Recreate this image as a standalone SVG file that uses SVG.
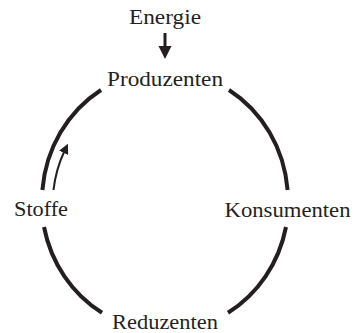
<svg xmlns="http://www.w3.org/2000/svg" width="356" height="333" viewBox="0 0 356 333">
  <style>
    .lbl { font-family: "Liberation Serif", "DejaVu Serif", "Noto Serif", serif; font-size: 22px; fill: #231f20; text-anchor: middle; }
    .cycle { fill: none; stroke: #231f20; stroke-width: 4; stroke-linecap: butt; }
    .thin { fill: none; stroke: #231f20; stroke-width: 2; }
  </style>
  <defs>
    <marker id="head" viewBox="0 0 10 10" refX="2" refY="5" markerWidth="5" markerHeight="5" markerUnits="strokeWidth" orient="auto">
      <path d="M0,0 L10,5 L0,10 z" fill="#231f20"/>
    </marker>
  </defs>
  <rect width="356" height="333" fill="#ffffff"/>
  <g id="connectors">
    <path class="cycle" d="M 101 90 A 123 130 0 0 0 42.4 190"/>
    <path class="cycle" d="M 229 90 A 123 130 0 0 1 287.6 190"/>
    <path class="cycle" d="M 44 227 A 123 130 0 0 0 102 312.7"/>
    <path class="cycle" d="M 286 227 A 123 130 0 0 1 228 312.7"/>
    <path class="thin" d="M 53.5 190 A 112 119 0 0 1 64.5 151" marker-end="url(#head)"/>
    <g id="energy-arrow">
      <line x1="165" y1="33" x2="165" y2="48" stroke="#231f20" stroke-width="3"/>
      <polygon points="158.5,46 171.5,46 165,59" fill="#231f20"/>
    </g>
  </g>
  <g id="energie"><text class="lbl" x="165" y="24" textLength="72" lengthAdjust="spacingAndGlyphs">Energie</text></g>
  <g id="produzenten"><text class="lbl" x="165" y="86" textLength="116" lengthAdjust="spacingAndGlyphs">Produzenten</text></g>
  <g id="stoffe"><text class="lbl" x="41" y="216" textLength="54" lengthAdjust="spacingAndGlyphs">Stoffe</text></g>
  <g id="konsumenten"><text class="lbl" x="287.5" y="216.5" textLength="126" lengthAdjust="spacingAndGlyphs">Konsumenten</text></g>
  <g id="reduzenten"><text class="lbl" x="165" y="328.5" textLength="106" lengthAdjust="spacingAndGlyphs">Reduzenten</text></g>
</svg>
